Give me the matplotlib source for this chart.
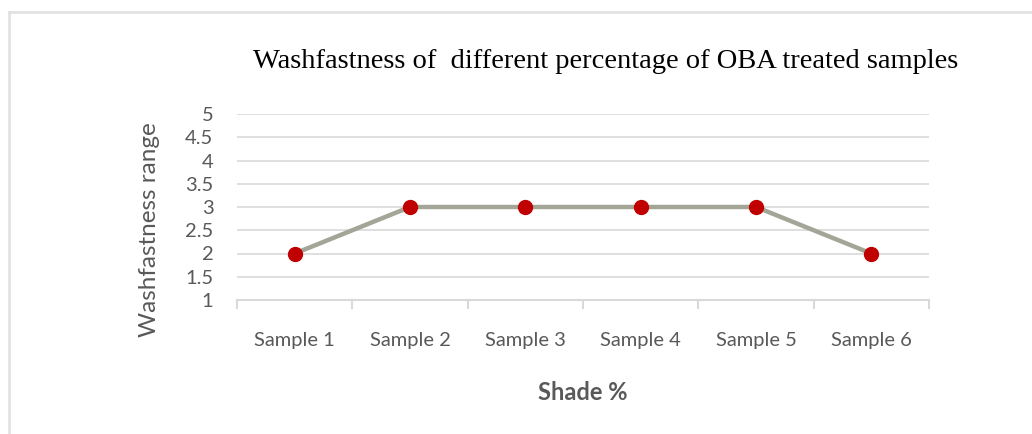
import matplotlib
matplotlib.use("Agg")
import matplotlib.pyplot as plt
from matplotlib.lines import Line2D

samples = ["Sample 1", "Sample 2", "Sample 3", "Sample 4", "Sample 5", "Sample 6"]
washfastness = [2, 3, 3, 3, 3, 2]
y_ticks = [1, 1.5, 2, 2.5, 3, 3.5, 4, 4.5, 5]
y_labels = ["1", "1.5", "2", "2.5", "3", "3.5", "4", "4.5", "5"]

GRID = "#d9d9d9"
TXT = "#595959"
SANS = ["Lato", "DejaVu Sans"]

fig = plt.figure(figsize=(10.32, 4.34), dpi=100)
ax = fig.add_axes([237/1032, 1 - 300/434, (929 - 237)/1032, (300 - 114)/434])

x = list(range(len(samples)))
ax.plot(x, washfastness, color="#a3a596", lw=3.2, solid_capstyle="round", zorder=3)
ax.plot(x, washfastness, "o", color="#c00000", ms=10, mec="#c00000", zorder=4)

ax.set_xlim(-0.5, len(samples) - 0.5)
ax.set_ylim(1, 5)
ax.set_yticks(y_ticks)
ax.set_yticklabels(y_labels, fontsize=14.5, color=TXT, family=SANS)
ax.set_xticks(x)
ax.set_xticklabels(samples, fontsize=14.5, color=TXT, family=SANS)
ax.tick_params(axis="x", length=0, pad=23)
ax.tick_params(axis="y", length=0, pad=17)

ax.grid(axis="y", color=GRID, lw=1.2)
ax.set_axisbelow(True)
for s in ["top", "right", "left"]:
    ax.spines[s].set_visible(False)
ax.spines["bottom"].set_color(GRID)
ax.spines["bottom"].set_linewidth(1.5)

# category boundary ticks below the axis line
for b in [i - 0.5 for i in range(len(samples) + 1)]:
    ax.plot([b, b], [1, 0.82], color=GRID, lw=1.5, clip_on=False)

ax.set_ylabel("Washfastness range", fontsize=17.5, color=TXT, family=SANS, va="center")
ax.yaxis.set_label_coords(-87/692, 70/186)
ax.set_xlabel("Shade %", fontsize=17, color=TXT, family=SANS, weight="bold", va="center")
ax.xaxis.set_label_coords(0.5, -92/186)

fig.text(606/1032, 1 - 61/434, "Washfastness of  different percentage of OBA treated samples",
         ha="center", va="center", fontsize=20.5, family=["Liberation Serif", "DejaVu Serif"],
         color="#000000")

# outer chart frame
fig.add_artist(Line2D([9/1032, 9/1032], [0, 1 - 12/434], color="#e2e2e2", lw=2,
                      transform=fig.transFigure))
fig.add_artist(Line2D([9/1032, 1], [1 - 12/434, 1 - 12/434], color="#e2e2e2", lw=2,
                      transform=fig.transFigure))

fig.savefig("out.png", dpi=100)
